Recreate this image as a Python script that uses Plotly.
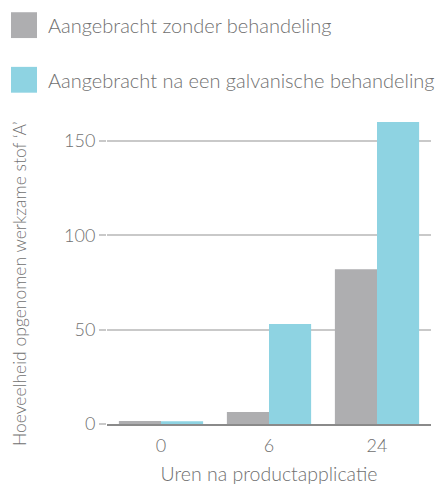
import plotly.graph_objects as go

categories = ["0", "6", "24"]
series_names = ["Aangebracht zonder behandeling", "Aangebracht na een galvanische behandeling"]
values_untreated = [1.6, 6.3, 82]
values_galvanic = [1.5, 53, 160]
y_ticks = [0, 50, 100, 150]

GRAY = "#AEAEB0"
BLUE = "#8ED3E2"
TXT = "#707070"
FONT = "Lato"

fig = go.Figure()
fig.add_bar(x=categories, y=values_untreated, name=series_names[0], marker_color=GRAY, marker_line_width=0)
fig.add_bar(x=categories, y=values_galvanic, name=series_names[1], marker_color=BLUE, marker_line_width=0)

fig.update_layout(
    width=435, height=486,
    margin=dict(l=107, r=4, t=122, b=60),
    paper_bgcolor="white", plot_bgcolor="white",
    barmode="group", bargap=0.22, bargroupgap=0,
    showlegend=False,
    font=dict(family=FONT, color=TXT, size=17, weight=300),
)
fig.update_xaxes(
    type="category", showgrid=False, showline=True, linecolor="#8a8a8a", linewidth=1.5,
    ticks="", ticklabelstandoff=5, tickfont=dict(size=18, color=TXT, family=FONT, weight=300),
    title=dict(text="Uren na productapplicatie", standoff=12,
               font=dict(size=19.5, color=TXT, family=FONT, weight=300)),
)
fig.update_yaxes(
    range=[0, 160], tickvals=y_ticks, showgrid=True, gridcolor="#c9c9c9", gridwidth=1.5,
    zeroline=False, showline=False, ticks="outside", ticklen=7, tickcolor="#c9c9c9", tickwidth=1.5,
    tickfont=dict(size=18, color=TXT, family=FONT, weight=300),
)


def px_x(p):
    return (p - 107) / 324


def px_y(p):
    return (426 - p) / 304


fig.add_annotation(
    text="Hoeveelheid opgenomen werkzame stof \u2018A\u2019", textangle=-90,
    xref="paper", yref="paper", x=px_x(20), y=px_y(285), xanchor="center", yanchor="middle",
    showarrow=False, font=dict(size=17.5, color=TXT, family=FONT, weight=300),
)

# legend drawn manually
legend_colors = [GRAY, BLUE]
legend_y_px = [24.5, 79.5]
for name, col, ypx in zip(series_names, legend_colors, legend_y_px):
    fig.add_shape(type="rect", xref="paper", yref="paper",
                  x0=px_x(11), x1=px_x(37), y0=px_y(ypx + 13), y1=px_y(ypx - 13),
                  fillcolor=col, line_width=0)
    fig.add_annotation(text=name, xref="paper", yref="paper", x=px_x(46), y=px_y(ypx),
                       xanchor="left", yanchor="middle", showarrow=False,
                       font=dict(size=20, color=TXT, family=FONT, weight=300))

fig.write_html("out.html", config={"displayModeBar": False},
               post_script="document.body.style.margin='0';")
